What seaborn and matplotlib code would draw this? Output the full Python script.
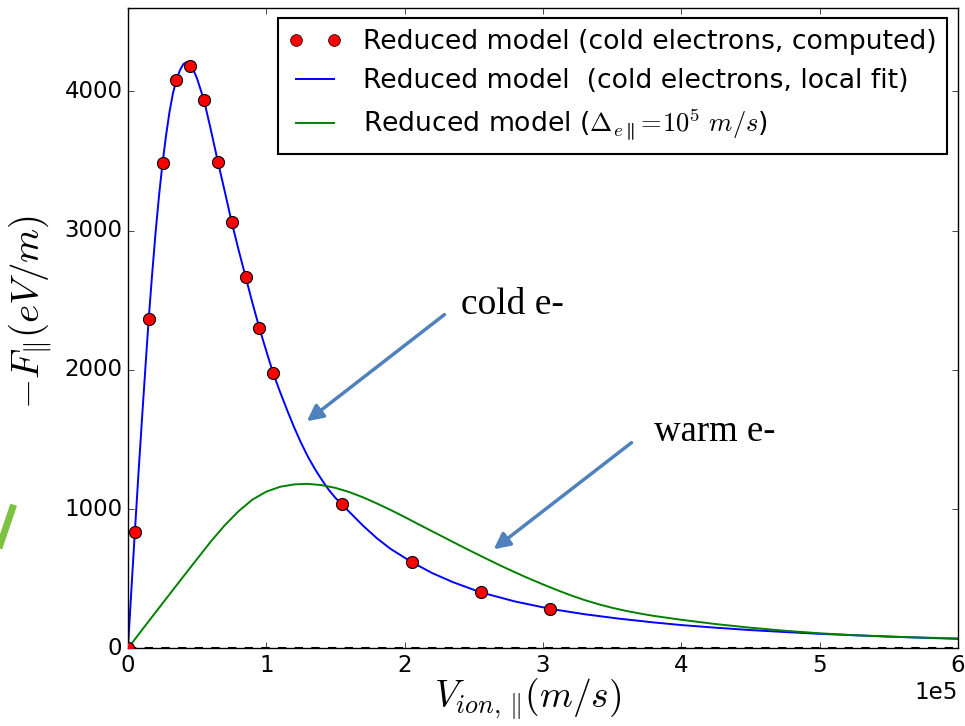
import matplotlib
matplotlib.use("Agg")
import matplotlib.pyplot as plt
import numpy as np
import pandas as pd
import seaborn as sns
from matplotlib.lines import Line2D

# classic matplotlib look, white background
plt.style.use("classic")
plt.rcParams.update(
    {
        "figure.facecolor": "white",
        "savefig.facecolor": "white",
        "font.family": "DejaVu Sans",
        "mathtext.fontset": "cm",
    }
)

# ---------------------------------------------------------
# DATA (velocities in m/s, force in eV/m)
# ---------------------------------------------------------
dots_v = [0, 0.05e5, 0.15e5, 0.25e5, 0.35e5, 0.45e5, 0.55e5, 0.65e5, 0.75e5,
          0.85e5, 0.95e5, 1.05e5, 1.55e5, 2.05e5, 2.55e5, 3.05e5]
dots_f = [0, 838, 2365, 3485, 4080, 4185, 3935, 3495, 3060,
          2670, 2300, 1975, 1035, 620, 402, 282]

# cold electrons, local fit (blue curve)
cold_v = [0, 0.025e5, 0.05e5, 0.075e5, 0.10e5, 0.125e5, 0.15e5, 0.175e5,
          0.20e5, 0.225e5, 0.25e5, 0.275e5, 0.30e5, 0.325e5, 0.35e5,
          0.375e5, 0.40e5, 0.425e5, 0.45e5, 0.475e5, 0.50e5, 0.55e5,
          0.60e5, 0.65e5, 0.70e5, 0.75e5, 0.80e5, 0.85e5, 0.90e5, 0.95e5,
          1.00e5, 1.05e5, 1.10e5, 1.15e5, 1.20e5, 1.25e5, 1.30e5, 1.35e5,
          1.40e5, 1.45e5, 1.50e5, 1.55e5, 1.60e5, 1.70e5, 1.80e5, 1.90e5,
          2.05e5, 2.20e5, 2.35e5, 2.55e5, 2.80e5, 3.05e5, 3.30e5, 3.55e5,
          3.80e5, 4.00e5, 4.25e5, 4.50e5, 4.75e5, 5.00e5, 5.30e5, 5.65e5,
          6.00e5]
cold_f = [0, 425, 838, 1240, 1625, 2000, 2365, 2690,
          2990, 3255, 3485, 3680, 3850, 3985, 4080,
          4150, 4195, 4210, 4190, 4150, 4090, 3935,
          3720, 3495, 3280, 3060, 2860, 2670, 2480, 2300,
          2135, 1975, 1840, 1712, 1590, 1478, 1378, 1290,
          1212, 1140, 1080, 1030, 980, 880, 790, 713,
          620, 540, 475, 402, 336, 284, 245, 213,
          186, 167, 148, 131, 117, 104, 92, 79,
          68]

# warm electrons (green curve)
warm_v = [0, 0.1e5, 0.2e5, 0.3e5, 0.4e5, 0.5e5, 0.6e5, 0.7e5, 0.8e5,
          0.9e5, 1.0e5, 1.1e5, 1.2e5, 1.3e5, 1.4e5, 1.5e5, 1.6e5, 1.7e5,
          1.8e5, 1.9e5, 2.0e5, 2.1e5, 2.2e5, 2.3e5, 2.4e5, 2.5e5, 2.6e5,
          2.7e5, 2.8e5, 2.9e5, 3.0e5, 3.1e5, 3.2e5, 3.3e5, 3.4e5, 3.5e5,
          3.6e5, 3.7e5, 3.8e5, 4.0e5, 4.25e5, 4.5e5, 4.75e5, 5.0e5,
          5.25e5, 5.5e5, 5.75e5, 6.0e5]
warm_f = [0, 130, 259, 387, 515, 642, 768, 884, 985,
          1068, 1125, 1160, 1177, 1181, 1172, 1152, 1122, 1084,
          1040, 993, 943, 891, 840, 789, 738, 688, 639,
          591, 545, 501, 459, 419, 381, 347, 317, 291,
          269, 250, 233, 205, 174, 148, 126, 108,
          94, 84, 77, 71]

labels = [
    "Reduced model (cold electrons, computed)",
    "Reduced model  (cold electrons, local fit)",
    r"Reduced model ($\Delta_{e\parallel}\!=\!10^5\ m/s$)",
]

cold_df = pd.DataFrame({"v": cold_v, "f": cold_f})
warm_df = pd.DataFrame({"v": warm_v, "f": warm_f})
dots_df = pd.DataFrame({"v": dots_v, "f": dots_f})

fig = plt.figure(figsize=(9.65, 7.26), dpi=100)
ax = fig.add_axes([0.1326, 0.107, 0.8601, 0.8823])

ax.axhline(0, color="k", linestyle="--", linewidth=1.5, zorder=1)
sns.lineplot(data=cold_df, x="v", y="f", sort=False, color="b",
             linewidth=1.4, ax=ax, zorder=2)
sns.lineplot(data=warm_df, x="v", y="f", sort=False, color="g",
             linewidth=1.4, ax=ax, zorder=2)
sns.scatterplot(data=dots_df, x="v", y="f", color="r", edgecolor="k",
                linewidth=0.8, s=75, ax=ax, zorder=3)

ax.set_xlim(0, 6e5)
ax.set_ylim(0, 4600)
ax.set_yticks([0, 1000, 2000, 3000, 4000])
ax.ticklabel_format(axis="x", style="sci", scilimits=(0, 0))
ax.tick_params(labelsize=16.5)
ax.xaxis.get_offset_text().set_fontsize(16.5)
ax.set_xlabel(r"$V_{ion,\,\Vert}(m/s)$", fontsize=27)
ax.set_ylabel(r"$-F_{\Vert}(eV/m)$", fontsize=28)
ax.xaxis.set_label_coords(0.481, -0.045)
ax.yaxis.set_label_coords(-0.089, 0.525)

handles = [
    Line2D([], [], color="r", marker="o", markeredgecolor="k",
           markersize=8.5, linestyle="none"),
    Line2D([], [], color="b", linewidth=1.4),
    Line2D([], [], color="g", linewidth=1.4),
]
leg = ax.legend(handles, labels, loc="upper right", fontsize=19.2,
                numpoints=2, borderaxespad=0.4, labelspacing=0.5,
                frameon=True, fancybox=False)
leg.get_frame().set_linewidth(1.5)
leg.get_frame().set_edgecolor("k")

# slide annotations
arrow_kw = dict(arrowstyle="-|>", color="#4F81BD", lw=2.5, mutation_scale=24)
ax.annotate("", xy=(1.277e5, 1618), xytext=(2.304e5, 2409), arrowprops=arrow_kw)
ax.annotate("", xy=(2.628e5, 699), xytext=(3.656e5, 1489), arrowprops=arrow_kw)
ax.text(2.41e5, 2466, "cold e-", fontsize=27, family="Liberation Serif",
        va="center", ha="left")
ax.text(3.80e5, 1553, "warm e-", fontsize=26.5, family="Liberation Serif",
        va="center", ha="left")

# cropped slide remnant on the far left
fig.add_artist(Line2D([0.0, 0.013], [1 - 545 / 726, 1 - 508 / 726],
                      transform=fig.transFigure, color="#7DC243", lw=5))

fig.savefig("out.png", dpi=100)
